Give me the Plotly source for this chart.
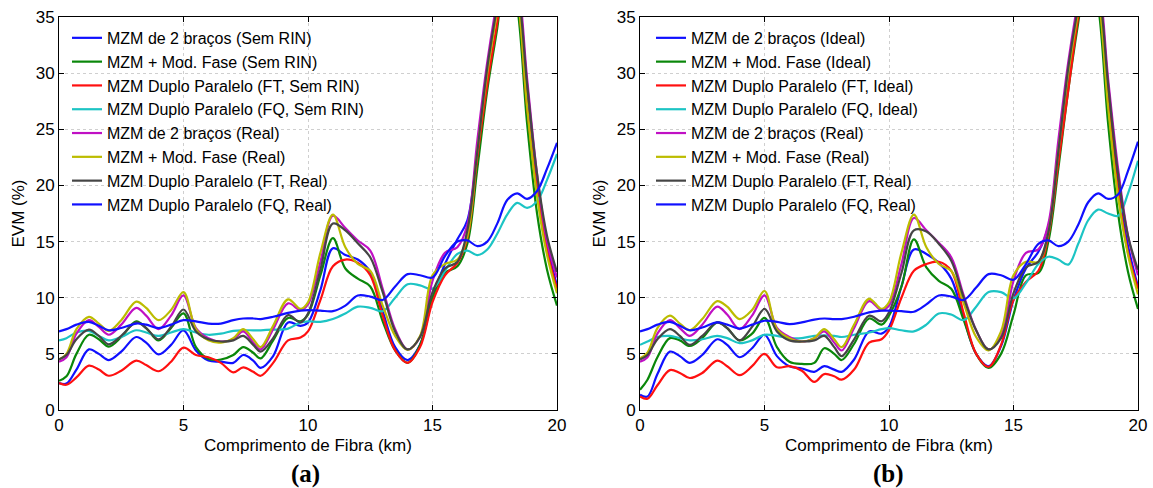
import plotly.graph_objects as go

# Common distance grid (km)
x_km = [0, 0.3, 0.7, 1.2, 1.6, 2.0, 2.5, 3.1, 3.5, 4.0, 4.5, 5.0, 5.5, 6.0, 6.5, 7.0, 7.4, 7.8, 8.1, 8.6,
        9.2, 9.7, 10.0, 10.5, 11.0, 11.5, 12.0, 12.5, 13.0, 13.5, 14.0, 14.5, 15.0, 15.5, 16.0, 16.4, 16.8,
        17.2, 17.6, 18.0, 18.4, 18.8, 19.2, 19.6, 20.0]

# ---- Panel (a) ----
a_2bracos_semrin = [2.4, 2.35, 3.6, 5.4, 5.0, 4.45, 5.2, 6.5, 6.0, 4.95, 5.8, 7.1, 5.3, 4.4, 4.3, 4.2, 4.9, 4.4, 3.75, 4.8,
                    7.8, 7.5, 7.8, 10.7, 14.4, 13.8, 13.4, 12.3, 8.8, 5.6, 4.45, 5.8, 10.0, 13.0, 15.2, 16.9, 23.0,
                    30.0, 36.0, 41.0, 37.5, 27.5, 19.8, 14.6, 11.1]
a_modfase_semrin = [2.6, 3.0, 5.0, 6.7, 6.3, 5.65, 6.5, 7.9, 7.3, 6.2, 7.3, 8.6, 5.6, 4.55, 4.5, 4.9, 5.6, 5.1, 4.6, 6.2,
                    8.2, 7.9, 8.5, 12.0, 15.3, 12.6, 11.7, 11.0, 7.9, 5.3, 4.2, 5.8, 10.0, 12.2, 12.8, 14.8, 21.5,
                    28.5, 34.0, 40.0, 36.0, 25.5, 17.5, 12.5, 9.3]
a_dp_ft_semrin = [2.4, 2.25, 2.9, 3.95, 3.6, 3.05, 3.5, 4.4, 4.0, 3.45, 4.3, 5.55, 4.9, 4.7, 4.2, 3.35, 3.8, 3.4, 3.05, 4.2,
                  6.2, 6.45, 7.0, 9.8, 12.8, 13.4, 13.1, 12.0, 8.4, 5.3, 4.2, 5.6, 9.6, 12.0, 13.1, 15.3, 22.5,
                  29.0, 34.5, 40.0, 37.0, 27.0, 19.6, 14.2, 10.8]
a_dp_fq_semrin = [6.2, 6.4, 6.9, 7.05, 6.6, 6.2, 6.5, 7.1, 6.9, 6.6, 6.9, 7.2, 6.9, 6.7, 6.8, 7.05, 7.1, 7.1, 7.1, 7.15,
                  7.25, 7.8, 7.9, 7.85, 8.1, 8.6, 9.2, 9.1, 8.8, 10.0, 11.2, 11.1, 10.8, 12.4, 13.9, 14.2, 13.8,
                  14.3, 15.7, 17.4, 18.45, 18.0, 18.6, 20.5, 22.8]
a_2bracos_real = [4.3, 4.7, 6.8, 8.0, 7.4, 6.7, 7.6, 9.1, 8.4, 7.2, 8.4, 10.2, 7.3, 6.4, 6.1, 6.3, 7.0, 6.0, 5.4, 7.2,
                  9.5, 8.9, 9.4, 13.2, 17.3, 16.2, 15.1, 14.2, 10.8, 7.2, 5.4, 6.5, 11.5, 14.0, 14.5, 16.5, 24.0,
                  31.0, 36.5, 41.0, 38.5, 29.5, 21.0, 15.0, 11.8]
a_modfase_real = [4.5, 5.0, 7.2, 8.3, 7.7, 7.05, 8.0, 9.65, 9.1, 8.0, 8.9, 10.5, 7.2, 6.2, 6.0, 6.4, 7.2, 6.3, 5.6, 7.5,
                  9.85, 9.0, 9.6, 14.0, 17.4, 14.5, 13.0, 12.4, 9.3, 6.6, 5.35, 6.6, 12.0, 13.0, 13.4, 15.5, 23.0,
                  30.0, 35.5, 40.5, 37.0, 27.0, 19.0, 13.8, 10.4]
a_dp_ft_real = [4.5, 4.9, 6.3, 7.15, 6.6, 5.85, 6.6, 7.8, 7.3, 6.3, 7.4, 8.95, 7.0, 6.3, 6.1, 6.2, 6.6, 5.8, 5.2, 6.4,
                8.45, 7.8, 8.6, 12.5, 16.6, 16.0, 14.85, 13.6, 10.5, 7.0, 5.4, 6.5, 10.5, 12.6, 13.2, 16.0, 23.0,
                30.5, 36.0, 41.0, 38.0, 29.0, 21.0, 15.5, 12.3]
a_dp_fq_real = [7.0, 7.2, 7.6, 7.85, 7.5, 7.1, 7.3, 7.7, 7.6, 7.3, 7.6, 8.0, 7.9, 7.7, 7.7, 8.0, 8.15, 8.15, 8.1, 8.3,
                8.65, 8.85, 8.9, 8.85, 8.8, 9.3, 10.2, 10.1, 9.8, 11.0, 12.1, 12.0, 11.8, 13.7, 15.0, 15.1, 14.6,
                15.0, 16.6, 18.7, 19.3, 18.8, 19.5, 21.5, 23.8]

# ---- Panel (b) ----
b_2bracos_ideal = [1.35, 1.2, 3.2, 5.2, 4.8, 4.2, 4.9, 6.3, 5.8, 4.7, 5.5, 6.7, 4.8, 3.9, 3.7, 3.4, 3.9, 3.6, 3.4, 4.5,
                   7.0, 6.8, 7.4, 11.0, 14.3, 13.9, 13.1, 11.7, 8.2, 5.0, 3.9, 5.7, 9.8, 12.6, 14.1, 16.3, 23.0,
                   29.5, 35.5, 40.5, 37.5, 28.0, 20.0, 14.6, 11.0]
b_modfase_ideal = [1.8, 2.7, 4.7, 6.4, 6.2, 5.7, 6.4, 7.8, 7.3, 6.2, 6.8, 8.2, 5.6, 4.3, 4.1, 4.2, 5.5, 5.0, 4.45, 5.9,
                   8.15, 7.6, 8.4, 11.0, 15.2, 12.7, 11.5, 10.8, 8.0, 5.0, 3.75, 5.0, 8.5, 12.0, 12.2, 15.0, 21.5,
                   28.5, 34.5, 40.0, 36.0, 25.5, 17.5, 12.3, 9.0]
b_dp_ft_ideal = [1.2, 1.0, 2.2, 3.55, 3.3, 2.85, 3.3, 4.4, 3.9, 3.1, 3.9, 5.0, 3.8, 3.9, 3.5, 2.5, 3.2, 3.0, 2.7, 3.6,
                 6.0, 6.3, 7.1, 10.0, 12.4, 13.0, 13.2, 12.4, 8.6, 5.0, 3.85, 5.8, 9.8, 11.4, 12.4, 15.5, 22.0,
                 28.5, 35.0, 40.0, 37.0, 27.5, 19.5, 14.0, 10.8]
b_dp_fq_ideal = [5.8, 6.1, 6.5, 6.6, 6.4, 6.2, 6.3, 6.6, 6.4, 5.95, 6.2, 6.7, 6.6, 6.4, 6.4, 6.6, 6.65, 6.6, 6.5, 6.7,
                 6.9, 7.2, 7.3, 7.1, 7.0, 7.6, 8.6, 8.5, 8.0, 9.2, 10.5, 10.5, 9.95, 11.3, 13.0, 13.65, 13.4,
                 12.95, 14.8, 16.9, 17.85, 17.5, 17.3, 19.3, 22.2]
b_2bracos_real = [4.3, 4.7, 6.8, 8.0, 7.3, 6.6, 7.6, 9.2, 8.5, 7.2, 8.4, 10.2, 7.3, 6.5, 6.1, 6.4, 7.0, 6.0, 5.3, 7.3,
                  9.7, 8.9, 9.3, 13.0, 17.1, 16.0, 14.9, 13.6, 10.2, 7.1, 5.4, 6.6, 11.5, 14.0, 14.3, 16.6, 24.0,
                  31.0, 36.5, 41.0, 38.5, 29.5, 21.5, 15.5, 12.0]
b_modfase_real = [4.6, 5.1, 7.3, 8.4, 7.7, 7.1, 8.1, 9.7, 9.2, 8.1, 8.9, 10.6, 7.2, 6.4, 6.1, 6.4, 7.2, 6.3, 5.6, 7.6,
                  9.9, 9.0, 9.6, 14.0, 17.4, 14.5, 13.0, 12.4, 9.5, 6.5, 5.3, 7.0, 12.0, 13.2, 13.2, 15.8, 23.0,
                  30.0, 35.5, 40.5, 37.0, 27.0, 19.0, 13.8, 10.3]
b_dp_ft_real = [4.5, 4.9, 6.3, 7.2, 6.6, 5.8, 6.6, 7.8, 7.3, 6.2, 7.4, 9.0, 7.0, 6.2, 6.1, 6.2, 6.6, 5.6, 4.8, 6.3,
                8.4, 7.9, 8.7, 12.2, 16.0, 15.9, 14.8, 13.3, 10.0, 7.1, 5.4, 6.4, 10.4, 12.7, 13.2, 15.8, 23.0,
                30.5, 36.0, 41.0, 38.0, 29.0, 21.0, 15.5, 12.5]
b_dp_fq_real = [7.0, 7.2, 7.6, 7.85, 7.5, 7.1, 7.35, 7.8, 7.6, 7.25, 7.6, 7.95, 7.85, 7.65, 7.8, 8.05, 8.15, 8.1, 8.1, 8.3,
                8.7, 8.85, 8.85, 8.8, 8.75, 9.4, 10.2, 10.1, 9.8, 10.9, 12.1, 12.0, 11.6, 13.0, 14.8, 15.1, 14.6,
                15.0, 16.5, 18.5, 19.3, 18.8, 19.2, 21.3, 23.9]

names_a = ["MZM de 2 braços (Sem RIN)", "MZM + Mod. Fase (Sem RIN)", "MZM Duplo Paralelo (FT, Sem RIN)",
           "MZM Duplo Paralelo (FQ, Sem RIN)", "MZM de 2 braços (Real)", "MZM + Mod. Fase (Real)",
           "MZM Duplo Paralelo (FT, Real)", "MZM Duplo Paralelo (FQ, Real)"]
names_b = ["MZM de 2 braços (Ideal)", "MZM + Mod. Fase (Ideal)", "MZM Duplo Paralelo (FT, Ideal)",
           "MZM Duplo Paralelo (FQ, Ideal)", "MZM de 2 braços (Real)", "MZM + Mod. Fase (Real)",
           "MZM Duplo Paralelo (FT, Real)", "MZM Duplo Paralelo (FQ, Real)"]
series_a = [a_2bracos_semrin, a_modfase_semrin, a_dp_ft_semrin, a_dp_fq_semrin,
            a_2bracos_real, a_modfase_real, a_dp_ft_real, a_dp_fq_real]
series_b = [b_2bracos_ideal, b_modfase_ideal, b_dp_ft_ideal, b_dp_fq_ideal,
            b_2bracos_real, b_modfase_real, b_dp_ft_real, b_dp_fq_real]
colors = ["#1010ff", "#0a870a", "#ff1010", "#1cc4c4", "#c010c4", "#bcbc00", "#454545", "#1010ff"]

W, H = 1153, 488
FONT = "Liberation Sans, Arial, sans-serif"

fig = go.Figure()
for ys, nm, c in zip(series_a, names_a, colors):
    fig.add_trace(go.Scatter(x=x_km, y=ys, name=nm, mode="lines",
                             line=dict(color=c, width=2.2, shape="spline", smoothing=1.0),
                             xaxis="x", yaxis="y", legend="legend"))
for ys, nm, c in zip(series_b, names_b, colors):
    fig.add_trace(go.Scatter(x=x_km, y=ys, name=nm, mode="lines",
                             line=dict(color=c, width=2.2, shape="spline", smoothing=1.0),
                             xaxis="x2", yaxis="y2", legend="legend2"))

axis_common = dict(showline=True, linecolor="black", linewidth=1, mirror="ticks",
                   ticks="inside", ticklen=5, tickcolor="black", automargin=False,
                   showgrid=True, gridcolor="#cfcfcf", griddash="dot", gridwidth=1,
                   zeroline=False, tickfont=dict(family=FONT, size=17, color="black"))

xa = 59 / W
xb = 557 / W
xc = 640 / W
xd = 1138 / W

leg_font = dict(family=FONT, size=16, color="black")

fig.update_layout(
    width=W, height=H,
    margin=dict(l=0, r=0, t=17, b=78, autoexpand=False),
    paper_bgcolor="white", plot_bgcolor="white",
    showlegend=True,
    xaxis=dict(domain=[xa, xb], range=[0, 20], dtick=5, anchor="y",
               title=dict(text="Comprimento de Fibra (km)", standoff=4,
                          font=dict(family=FONT, size=17, color="black")), **axis_common),
    yaxis=dict(domain=[0, 1], range=[0, 35], dtick=5, anchor="x",
               title=dict(text="EVM (%)", standoff=6,
                          font=dict(family=FONT, size=17, color="black")), **axis_common),
    xaxis2=dict(domain=[xc, xd], range=[0, 20], dtick=5, anchor="y2",
                title=dict(text="Comprimento de Fibra (km)", standoff=4,
                           font=dict(family=FONT, size=17, color="black")), **axis_common),
    yaxis2=dict(domain=[0, 1], range=[0, 35], dtick=5, anchor="x2",
                title=dict(text="EVM (%)", standoff=6,
                           font=dict(family=FONT, size=17, color="black")), **axis_common),
    legend=dict(x=67 / W, y=0.99, xanchor="left", yanchor="top", bgcolor="rgba(0,0,0,0)",
                font=leg_font, borderwidth=0, tracegroupgap=0),
    legend2=dict(x=651 / W, y=0.99, xanchor="left", yanchor="top", bgcolor="rgba(0,0,0,0)",
                 font=leg_font, borderwidth=0, tracegroupgap=0),
    annotations=[
        dict(text="<b>(a)</b>", x=305 / W, y=-0.163, xref="paper", yref="paper",
             xanchor="center", yanchor="middle", showarrow=False,
             font=dict(family="Liberation Serif, Times New Roman, serif", size=25, color="black")),
        dict(text="<b>(b)</b>", x=888 / W, y=-0.163, xref="paper", yref="paper",
             xanchor="center", yanchor="middle", showarrow=False,
             font=dict(family="Liberation Serif, Times New Roman, serif", size=25, color="black")),
    ],
)

fig.write_html("out.html", config={"displayModeBar": False},
               post_script="document.body.style.margin='0';document.body.style.overflow='hidden';")
